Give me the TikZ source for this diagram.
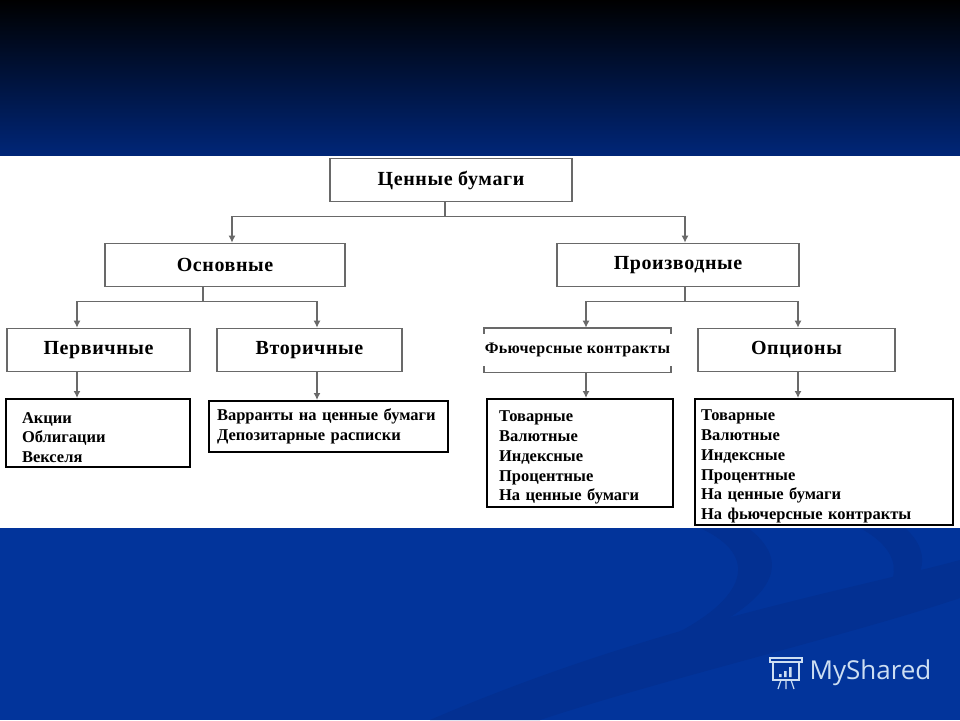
\documentclass[tikz,border=0pt]{standalone}
\usepackage{fontspec}
\setmainfont{Liberation Serif}
\newfontfamily\logofont{Open Sans}
\usetikzlibrary{positioning,arrows.meta}
\newcommand{\leadstrut}{\rule{0pt}{20pt}}

\definecolor{slidetop}{RGB}{0,38,120}
\definecolor{slidemid}{RGB}{0,20,70}
\definecolor{slideblue}{RGB}{2,52,155}
\definecolor{swoosh}{RGB}{3,48,146}
\definecolor{boxgray}{RGB}{105,105,105}
\definecolor{logoblue}{RGB}{205,222,242}

\begin{document}
\begin{tikzpicture}[x=1pt,y=-1pt,>={Latex[length=7pt,width=7pt]},
    cat/.style={draw=boxgray,line width=1.6pt,minimum width=#1,minimum height=43pt,inner sep=0pt,
      font=\fontsize{20}{22}\selectfont\bfseries\addfontfeature{LetterSpace=3}},
    leaf/.style={draw=black,line width=2pt,anchor=north west,align=left,inner ysep=1pt,
      font=\fontsize{16.5}{19.8}\selectfont\bfseries},
    wire/.style={draw=boxgray,line width=1.6pt}]
  % slide background
  \shade[top color=black,middle color=slidemid,bottom color=slidetop] (0,0) rectangle (960,156);
  \fill[white] (0,156) rectangle (960,528);
  \fill[slideblue] (0,528) rectangle (960,720);
  \fill[swoosh] (430,720) .. controls (650,625) and (850,590) .. (960,560) -- (960,598) .. controls (850,635) and (660,680) .. (540,720) -- cycle;
  \fill[swoosh] (700,528) .. controls (770,560) and (740,610) .. (640,650) -- (665,650) .. controls (785,600) and (790,560) .. (748,528) -- cycle;
  \fill[swoosh] (860,528) .. controls (910,555) and (900,590) .. (860,615) -- (880,615) .. controls (925,585) and (935,555) .. (905,528) -- cycle;

  % nodes
  \node[cat=242pt] (cb) at (451,180) {Ценные бумаги};
  \node[cat=240pt] (osn) at (225,265) {Основные};
  \node[cat=242pt] (prz) at (678,265) {Производные};
  \node[cat=183pt] (perv) at (98.5,350) {Первичные};
  \node[cat=185pt] (vtor) at (309.5,350) {Вторичные};
  \node[cat=185pt,draw=none,font=\fontsize{16}{18}\selectfont\bfseries\addfontfeature{LetterSpace=2}] (fut) at (577.5,350) {Фьючерсные контракты};
  \node[cat=197pt] (opc) at (796.5,350) {Опционы};

  \node[leaf,text width=152pt,inner xsep=16pt,minimum height=68pt] (akc) at (5,398) {\leadstrut Акции\\Облигации\\Векселя};
  \node[leaf,text width=223pt,inner xsep=8pt,minimum height=51pt] (var) at (208,400) {Варранты на ценные бумаги\\Депозитарные расписки};
  \node[leaf,text width=162pt,inner xsep=12pt,minimum height=108pt] (futl) at (486,398) {\leadstrut Товарные\\Валютные\\Индексные\\Процентные\\На ценные бумаги};
  \node[leaf,text width=246pt,inner xsep=6pt,minimum height=126pt] (opcl) at (694,398) {\leadstrut Товарные\\Валютные\\Индексные\\Процентные\\На ценные бумаги\\На фьючерсные контракты};

  % open box of the futures
  \draw[wire] ([yshift=-6pt]fut.north west) -- (fut.north west) -- (fut.north east) -- ([yshift=-6pt]fut.north east);
  \draw[wire] ([yshift=6pt]fut.south west) -- (fut.south west) -- (fut.south east) -- ([yshift=6pt]fut.south east);

  % connectors
  \draw[wire] ([xshift=-6pt]cb.south) -- ++(0,14) coordinate (j0);
  \draw[wire,->] (j0) -| ([xshift=7pt]osn.north);
  \draw[wire,->] (j0) -| ([xshift=7pt]prz.north);
  \draw[wire] ([xshift=-22pt]osn.south) -- ++(0,14) coordinate (j1);
  \draw[wire,->] (j1) -| ([xshift=-21.5pt]perv.north);
  \draw[wire,->] (j1) -| ([xshift=7.5pt]vtor.north);
  \draw[wire] ([xshift=7pt]prz.south) -- ++(0,14) coordinate (j2);
  \draw[wire,->] (j2) -| ([xshift=8.5pt]fut.north);
  \draw[wire,->] (j2) -| ([xshift=1.5pt]opc.north);
  \draw[wire,->] ([xshift=-21.5pt]perv.south) -- ([xshift=-21.5pt]perv.south |- akc.north);
  \draw[wire,->] ([xshift=7.5pt]vtor.south) -- ([xshift=7.5pt]vtor.south |- var.north);
  \draw[wire,->] ([xshift=8.5pt]fut.south) -- ([xshift=8.5pt]fut.south |- futl.north);
  \draw[wire,->] ([xshift=1.5pt]opc.south) -- ([xshift=1.5pt]opc.south |- opcl.north);

  % watermark
  \node[anchor=west,text=logoblue,font=\logofont\fontsize{26}{30}\selectfont] (logo) at (806,673) {MyShared};
  \draw[logoblue,line width=1.2pt] (770,658) rectangle (802,662);
  \draw[logoblue,line width=1.2pt] (773,662) rectangle (799,680);
  \fill[logoblue] (779,674) rectangle (781.5,677) (784,671) rectangle (786.5,677) (789,667) rectangle (791.5,677);
  \draw[logoblue,line width=1.2pt] (786,680) -- (786,689) (781,680) -- (778,689) (791,680) -- (794,689);
\end{tikzpicture}
\end{document}
